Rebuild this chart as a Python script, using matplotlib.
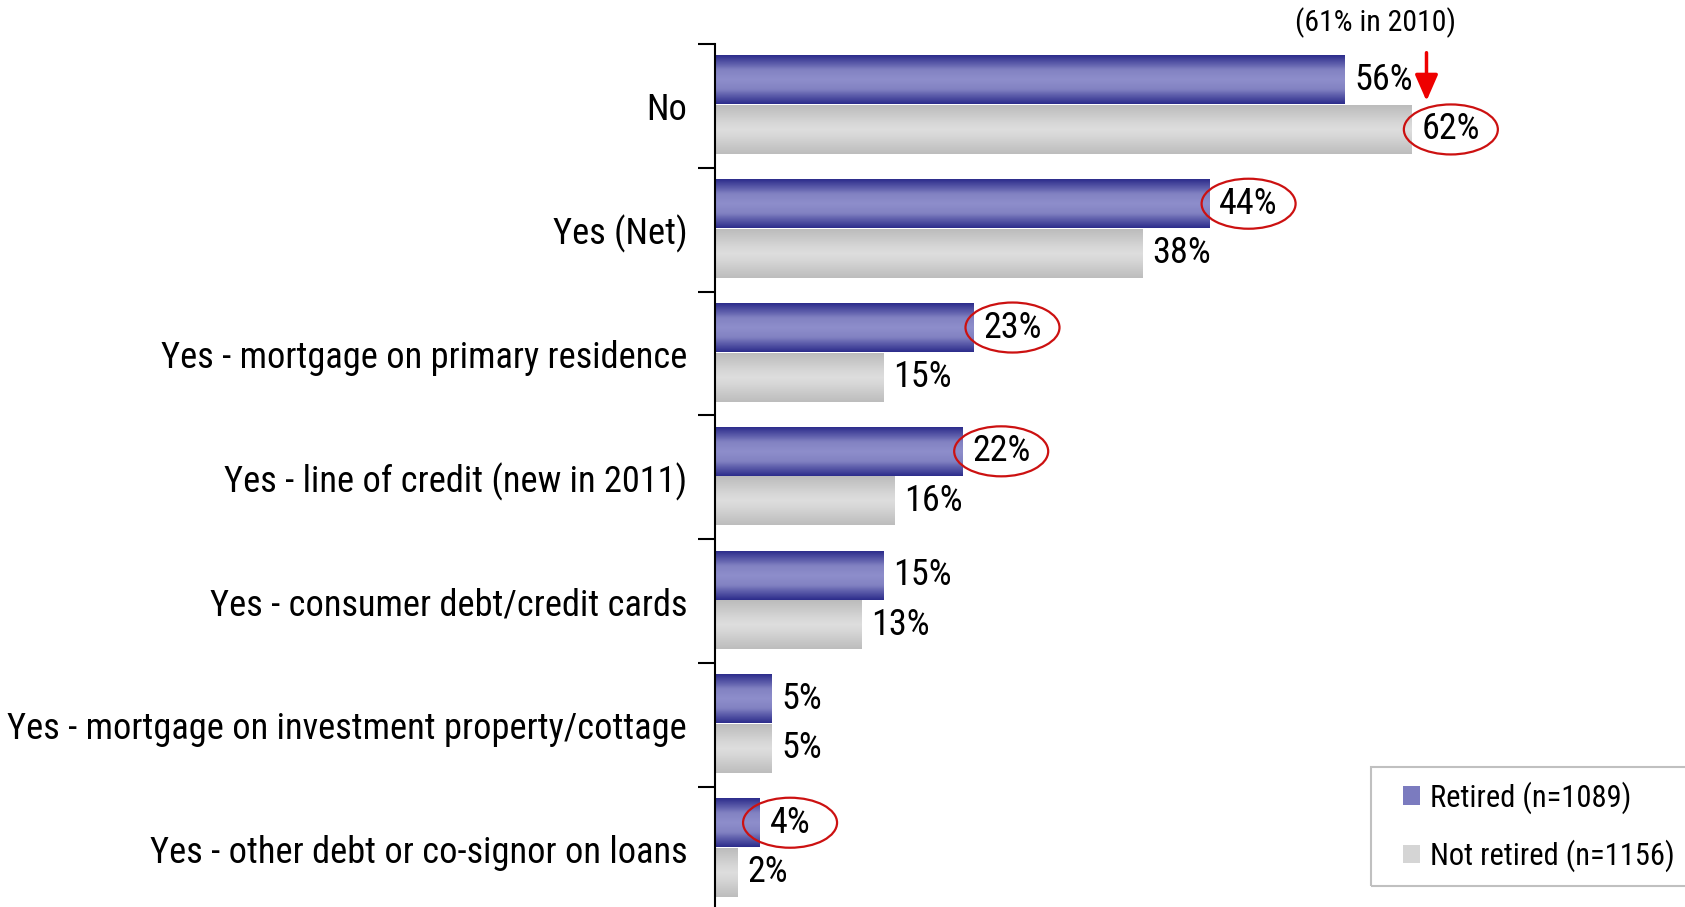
import numpy as np
import matplotlib.pyplot as plt
from matplotlib.colors import LinearSegmentedColormap
from matplotlib.patches import Ellipse, Patch, Rectangle
from matplotlib.transforms import IdentityTransform
from matplotlib import font_manager

plt.switch_backend("Agg")

# narrow sans similar to Arial Narrow; use the first one present
names = {f.name for f in font_manager.fontManager.ttflist}
narrow = [n for n in ("Roboto Condensed", "Archivo Narrow", "PT Sans Narrow",
                      "Liberation Sans Narrow", "Sofia Sans Semi Condensed") if n in names]
plt.rcParams["font.family"] = narrow[:1] + ["DejaVu Sans"]
if not narrow:
    plt.rcParams["font.stretch"] = "condensed"

# --- data ---
categories = [
    "No",
    "Yes (Net)",
    "Yes - mortgage on primary residence",
    "Yes - line of credit (new in 2011)",
    "Yes - consumer debt/credit cards",
    "Yes - mortgage on investment property/cottage",
    "Yes - other debt or co-signor on loans",
]
retired = [56, 44, 23, 22, 15, 5, 4]
not_retired = [62, 38, 15, 16, 13, 5, 2]
series_names = ["Retired (n=1089)", "Not retired (n=1156)"]
circled_retired = [1, 2, 3, 6]  # category indexes with red ring on retired label
circled_not_retired = [0]
note_2010 = "(61% in 2010)"

W, H, DPI = 1685, 907, 100
fig = plt.figure(figsize=(W / DPI, H / DPI), dpi=DPI)
ax = fig.add_axes([715 / W, -0.004, 970 / W, 7 * 123.8 / H])

cmap_blue = LinearSegmentedColormap.from_list(
    "b", [(0, "#2d2d8c"), (0.3, "#8282c2"), (0.5, "#8e8ecb"), (0.7, "#8282c2"), (1, "#2d2d8c")])
cmap_grey = LinearSegmentedColormap.from_list(
    "g", [(0, "#bcbcbc"), (0.35, "#d6d6d6"), (0.5, "#dedede"), (0.65, "#d6d6d6"), (1, "#bdbdbd")])

y = np.arange(len(categories))
bh = 0.395
b1 = ax.barh(y - 0.21, retired, height=bh, color="#7b7bbf", edgecolor="none")
b2 = ax.barh(y + 0.19, not_retired, height=bh, color="#d3d3d3", edgecolor="none")

# vertical gradient fill clipped to each bar
grad = np.linspace(0, 1, 64).reshape(-1, 1)
for bars, cm in ((b1, cmap_blue), (b2, cmap_grey)):
    for p in bars:
        x0, y0 = p.get_x(), p.get_y()
        im = ax.imshow(grad, cmap=cm, aspect="auto", interpolation="bilinear",
                       extent=(x0, x0 + p.get_width(), y0 + p.get_height(), y0), zorder=2)
        im.set_clip_path(p)
        p.set_facecolor("none")

ax.set_xlim(0, 970 / 11.24)
ax.set_ylim(len(categories) - 0.5, -0.5)

for s in ("top", "right", "bottom"):
    ax.spines[s].set_visible(False)
ax.spines["left"].set_linewidth(1.5)
ax.set_xticks([])
ax.set_yticks(y)
ax.set_yticklabels(categories, fontsize=26.2)
ax.tick_params(axis="y", which="major", length=0, pad=20)
ax.set_yticks(np.arange(len(categories)) - 0.5, minor=True)
ax.tick_params(axis="y", which="minor", length=12, width=1.5)

labels = []
for bars, vals, circ in ((b1, retired, circled_retired), (b2, not_retired, circled_not_retired)):
    for i, (p, v) in enumerate(zip(bars, vals)):
        t = ax.annotate(f"{v}%", (v, p.get_y() + p.get_height() / 2), xytext=(7, 0),
                        textcoords="offset points", va="center", ha="left", fontsize=26)
        if i in circ:
            labels.append(t)

# 2010 note with arrow
ax.text(58.8, -0.67, note_2010, ha="center", va="center", fontsize=21.5, clip_on=False)
ax.annotate("", xy=(63.3, -0.04), xytext=(63.3, -0.43), annotation_clip=False,
            arrowprops=dict(arrowstyle="-|>,head_length=0.8,head_width=0.35",
                            color="#ee0000", lw=2.5, mutation_scale=20, shrinkA=0, shrinkB=0))

handles = [Patch(facecolor="#7b7bbf", edgecolor="none"), Patch(facecolor="#d5d5d5", edgecolor="none")]
leg = fig.legend(handles, series_names, loc="lower left", bbox_to_anchor=(1389 / W, 21 / H),
                 fontsize=22, frameon=False, handlelength=0.55, handleheight=0.55,
                 handletextpad=0.35, labelspacing=0.85, borderpad=0.45, borderaxespad=0)

# red rings around highlighted labels, and the legend frame running off the right edge
fig.canvas.draw()
inv = ax.transData.inverted()
for t in labels:
    bb = t.get_window_extent()
    cx, cy = (bb.x0 + bb.x1) / 2, (bb.y0 + bb.y1) / 2
    (dx, dy) = inv.transform((cx, cy))
    (ex0, ey0) = inv.transform((cx - 47, cy - 25))
    (ex1, ey1) = inv.transform((cx + 47, cy + 25))
    ax.add_patch(Ellipse((dx, dy), abs(ex1 - ex0), abs(ey1 - ey0), fill=False,
                         edgecolor="#cc1111", lw=1.6, clip_on=False, zorder=5))

lb = leg.get_window_extent()
fig.add_artist(Rectangle((lb.x0 - 18, lb.y0), W, lb.height, transform=IdentityTransform(),
                         fill=False, edgecolor="#c0c0c0", lw=1.5))

fig.savefig("out.png", dpi=DPI)
